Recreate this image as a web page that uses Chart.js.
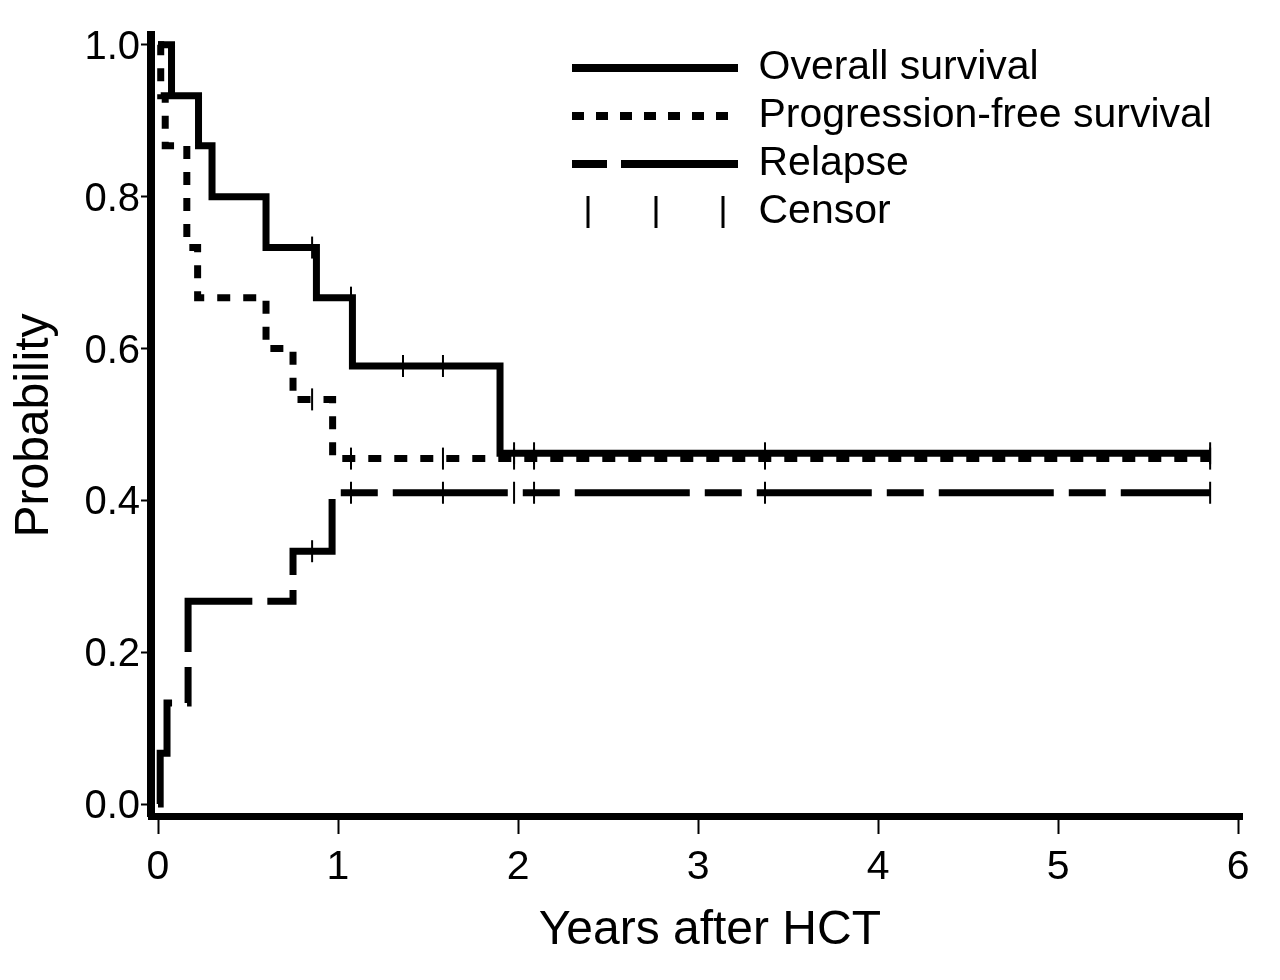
<!DOCTYPE html>
<html><head><meta charset="utf-8">
<script src="https://cdn.jsdelivr.net/npm/chart.js@4.4.1/dist/chart.umd.min.js"></script>
<style>html,body{margin:0;padding:0;background:#fff;} canvas{display:block;}</style>
</head><body>
<canvas id="c" width="1280" height="980"></canvas>
<script>
// ---- data ----
const seriesNames = ['Overall survival', 'Progression-free survival', 'Relapse', 'Censor'];
const osTimes   = [0, 0.075, 0.225, 0.30, 0.60, 0.88, 1.08, 1.90, 5.845];
const osValues  = [1.0, 0.933, 0.867, 0.80, 0.733, 0.667, 0.577, 0.462, 0.462];
const pfsTimes  = [0, 0.015, 0.04, 0.16, 0.22, 0.60, 0.75, 0.97, 5.845];
const pfsValues = [1.0, 0.933, 0.867, 0.733, 0.667, 0.60, 0.533, 0.455, 0.455];
const relTimes  = [0, 0.012, 0.05, 0.167, 0.75, 0.967, 5.845];
const relValues = [0, 0.067, 0.133, 0.267, 0.333, 0.41, 0.41];
const osCensorTimes  = [0.856, 1.072, 1.361, 1.583, 1.978, 2.089, 3.372, 5.845];
const pfsCensorTimes = [0.856, 1.072, 1.583, 1.978, 2.089, 3.372, 5.845];
const relCensorTimes = [0.856, 1.072, 1.583, 1.978, 2.089, 3.372, 5.845];
const xTickValues = [0, 1, 2, 3, 4, 5, 6];
const xTickLabels = ['0', '1', '2', '3', '4', '5', '6'];
const yTickValues = [0, 0.2, 0.4, 0.6, 0.8, 1.0];
const yTickLabels = ['0.0', '0.2', '0.4', '0.6', '0.8', '1.0'];
const xTitle = 'Years after HCT';
const yTitle = 'Probability';

// ---- helpers ----
const toPoints = (ts, vs) => ts.map((t, i) => ({x: t, y: vs[i]}));
function stepValue(ts, vs, t) {
  let v = vs[0];
  for (let i = 0; i < ts.length; i++) { if (ts[i] <= t + 1e-9) v = vs[i]; }
  return v;
}
const censorPoints = [].concat(
  osCensorTimes.map(t => ({x: t, y: stepValue(osTimes, osValues, t)})),
  pfsCensorTimes.map(t => ({x: t, y: stepValue(pfsTimes, pfsValues, t)})),
  relCensorTimes.map(t => ({x: t, y: stepValue(relTimes, relValues, t)}))
);

// legend glyph for censor marks
const censorGlyph = document.createElement('canvas');
censorGlyph.width = 166; censorGlyph.height = 32;
(function(){
  const g = censorGlyph.getContext('2d');
  g.strokeStyle = '#000'; g.lineWidth = 3;
  [16, 84, 151].forEach(x => { g.beginPath(); g.moveTo(x, 0); g.lineTo(x, 32); g.stroke(); });
})();

Chart.defaults.font.family = "'Liberation Sans', Arial, Helvetica, sans-serif";
Chart.defaults.color = '#000';

const legendDashes = [[], [12, 12], [35, 14, 120], []];

const placeLegend = {
  id: 'placeLegend',
  afterLayout(chart) {
    const lg = chart.legend;
    if (!lg) return;
    lg.left = 565; lg.right = 1278;
    lg.top = 40.5; lg.bottom = 300;
  }
};

const lineDs = (label, pts, dash) => ({
  label, data: pts, stepped: 'before', borderColor: '#000', backgroundColor: '#000',
  borderWidth: 7, borderDash: dash, borderCapStyle: 'butt', borderJoinStyle: 'miter',
  pointRadius: 0, fill: false, tension: 0
});

new Chart(document.getElementById('c'), {
  type: 'line',
  data: {
    datasets: [
      lineDs(seriesNames[0], toPoints(osTimes, osValues), []),
      lineDs(seriesNames[1], toPoints(pfsTimes, pfsValues), [13, 13]),
      lineDs(seriesNames[2], toPoints(relTimes, relValues), [115, 15, 37, 15]),
      {
        label: seriesNames[3], data: censorPoints, showLine: false,
        pointStyle: 'line', pointRotation: 90, pointRadius: 11, pointHoverRadius: 11,
        pointBorderWidth: 2, pointBorderColor: '#000', borderColor: '#000', backgroundColor: '#000'
      }
    ]
  },
  options: {
    responsive: false,
    animation: false,
    devicePixelRatio: 1,
    layout: { padding: { left: 0, right: 38, top: 35, bottom: 0 } },
    plugins: {
      tooltip: { enabled: false },
      legend: {
        position: 'chartArea',
        align: 'start',
        labels: {
          usePointStyle: true,
          pointStyleWidth: 166,
          boxHeight: 8,
          padding: 7,
          color: '#000',
          font: { size: 41 },
          generateLabels(chart) {
            return chart.data.datasets.map((ds, i) => ({
              text: ds.label,
              datasetIndex: i,
              hidden: false,
              fillStyle: '#000',
              strokeStyle: '#000',
              fontColor: '#000',
              lineWidth: i === 3 ? 0 : 8,
              lineDash: legendDashes[i],
              lineCap: 'butt',
              pointStyle: i === 3 ? censorGlyph : 'line',
              rotation: 0
            }));
          }
        }
      }
    },
    scales: {
      x: {
        type: 'linear',
        min: -0.039, max: 6.022,
        afterBuildTicks(s) { s.ticks = xTickValues.map(v => ({value: v})); },
        afterFit(s) { s.height = 164; },
        ticks: {
          autoSkip: false, maxRotation: 0, padding: 9,
          font: { size: 41 }, color: '#000',
          callback(v, i) { return xTickLabels[i]; }
        },
        grid: { display: true, drawOnChartArea: false, drawTicks: true, tickLength: 18, tickWidth: 2, tickColor: '#000' },
        border: { display: true, width: 7, color: '#000' },
        title: { display: true, text: '  ' + xTitle, font: { size: 48 }, color: '#000', padding: { top: 0, bottom: 20 } }
      },
      y: {
        type: 'linear',
        min: -0.0158, max: 1.013,
        afterBuildTicks(s) { s.ticks = yTickValues.map(v => ({value: v})); },
        afterFit(s) { s.width = 151; },
        ticks: {
          autoSkip: false, padding: 1, labelOffset: 3,
          font: { size: 40 }, color: '#000',
          callback(v, i) { return yTickLabels[i]; }
        },
        grid: { display: true, drawOnChartArea: false, drawTicks: true, tickLength: 10, tickWidth: 2, tickColor: '#000' },
        border: { display: true, width: 8, color: '#000' },
        title: { display: true, text: yTitle, font: { size: 48 }, color: '#000', padding: { top: 6, bottom: 0 } }
      }
    }
  },
  plugins: [placeLegend]
});
</script>
</body></html>
